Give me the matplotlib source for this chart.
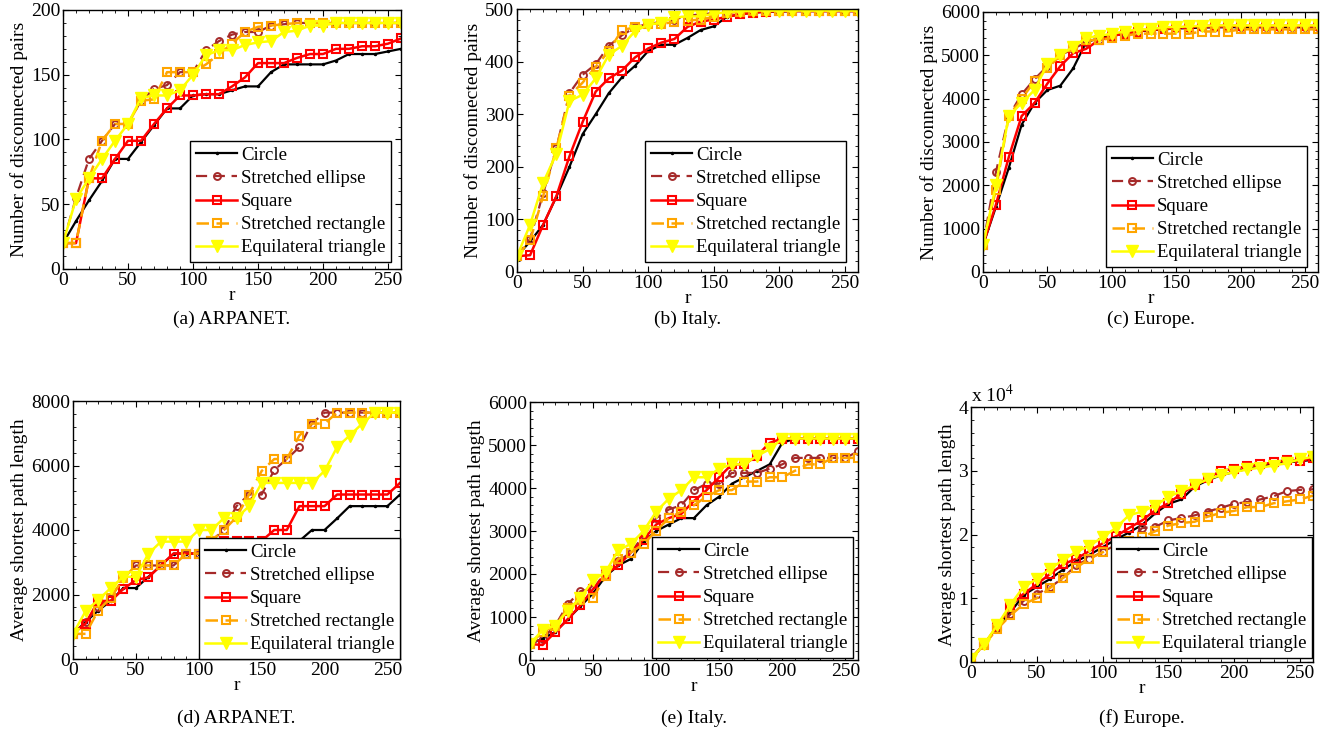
import numpy as np
import matplotlib
matplotlib.use("Agg")
import matplotlib.pyplot as plt
from matplotlib.ticker import MultipleLocator, FuncFormatter

plt.rcParams['font.family'] = ['Liberation Serif', 'DejaVu Serif']
plt.rcParams['mathtext.fontset'] = 'stix'

r = np.arange(0, 261, 10)

names = ["Circle", "Stretched ellipse", "Square", "Stretched rectangle", "Equilateral triangle"]

# (a) ARPANET, disconnected pairs
a_circle = [20, 37, 53, 68, 85, 85, 98, 111, 124, 124, 134, 135, 135, 138, 141, 141, 152, 158,
            158, 158, 158, 161, 166, 166, 166, 168, 170]
a_ellipse = [20, 55, 85, 99, 112, 112, 130, 139, 142, 152, 152, 169, 176, 181, 183, 183, 188, 189,
             190, 190, 190, 190, 190, 190, 190, 190, 190]
a_square = [20, 20, 70, 70, 85, 99, 99, 112, 124, 134, 134, 135, 135, 141, 148, 159, 159, 159,
            163, 166, 166, 170, 170, 172, 172, 174, 178]
a_rect = [20, 20, 70, 99, 112, 112, 130, 131, 152, 152, 152, 158, 166, 174, 183, 187, 188, 189,
          190, 190, 190, 190, 190, 190, 190, 190, 190]
a_tri = [20, 54, 70, 85, 99, 112, 132, 134, 134, 138, 150, 165, 169, 169, 173, 175, 176, 183,
         184, 188, 188, 190, 190, 190, 190, 190, 190]

# (b) Italy, disconnected pairs
b_circle = [30, 58, 90, 143, 200, 262, 300, 340, 370, 392, 420, 432, 432, 445, 460, 467, 485, 490,
            493, 495, 495, 496, 496, 496, 496, 496, 496]
b_ellipse = [30, 63, 150, 235, 340, 375, 395, 430, 450, 465, 472, 475, 480, 487, 490, 492, 495, 497,
             497, 497, 497, 497, 497, 497, 497, 497, 497]
b_square = [30, 32, 90, 144, 220, 285, 343, 368, 383, 408, 425, 436, 443, 466, 476, 480, 485, 490,
            493, 495, 496, 496, 496, 496, 496, 496, 496]
b_rect = [30, 60, 145, 235, 335, 360, 390, 420, 460, 465, 472, 472, 475, 478, 480, 485, 492, 495,
          496, 497, 497, 497, 497, 497, 497, 497, 497]
b_tri = [30, 90, 170, 225, 325, 337, 368, 413, 430, 458, 470, 474, 484, 486, 486, 491, 494, 496,
         497, 497, 497, 497, 497, 497, 497, 497, 497]

# (c) Europe, disconnected pairs
c_circle = [620, 1500, 2400, 3400, 3900, 4200, 4300, 4700, 5300, 5400, 5450, 5500, 5550, 5580, 5600,
            5620, 5630, 5640, 5650, 5650, 5650, 5650, 5650, 5650, 5650, 5650, 5650]
c_ellipse = [620, 2300, 3600, 4100, 4450, 4750, 5000, 5150, 5300, 5350, 5450, 5500, 5550, 5600, 5600,
             5620, 5640, 5650, 5650, 5650, 5650, 5650, 5650, 5650, 5650, 5650, 5650]
c_square = [620, 1550, 2650, 3600, 3900, 4350, 4750, 5050, 5150, 5350, 5450, 5500, 5550, 5600, 5600,
            5650, 5650, 5680, 5680, 5680, 5680, 5680, 5680, 5680, 5680, 5680, 5680]
c_rect = [620, 1900, 3600, 4000, 4400, 4700, 5000, 5200, 5350, 5350, 5400, 5450, 5500, 5500, 5500,
          5500, 5500, 5550, 5550, 5550, 5600, 5600, 5600, 5600, 5600, 5600, 5600]
c_tri = [620, 2000, 3600, 3900, 4200, 4800, 5000, 5200, 5400, 5450, 5500, 5550, 5600, 5600, 5650,
         5650, 5670, 5680, 5690, 5690, 5690, 5690, 5690, 5690, 5690, 5690, 5690]

# (d) ARPANET, average shortest path length
d_circle = [780, 1150, 1500, 1800, 2200, 2200, 2550, 2900, 3270, 3270, 3270, 3300, 3300, 3350, 3500,
            3630, 3630, 3660, 3660, 4000, 4000, 4360, 4740, 4740, 4740, 4740, 5100]
d_ellipse = [780, 1150, 1600, 1900, 2500, 2900, 2900, 2900, 2900, 3270, 3270, 3660, 4000, 4740, 5100,
             5100, 5860, 6200, 6570, 7300, 7640, 7640, 7640, 7640, 7640, 7640, 7640]
d_square = [780, 1100, 1800, 1800, 2170, 2450, 2530, 2910, 3270, 3270, 3270, 3660, 3660, 3660, 3660,
            3660, 4000, 4000, 4740, 4740, 4740, 5100, 5100, 5100, 5100, 5100, 5460]
d_rect = [780, 780, 1500, 1900, 2500, 2900, 2900, 2900, 2900, 3270, 3270, 3660, 4000, 4400, 5100,
          5830, 6200, 6200, 6930, 7300, 7300, 7640, 7640, 7640, 7640, 7640, 7640]
d_tri = [780, 1480, 1830, 2200, 2550, 2550, 3270, 3640, 3640, 3640, 4000, 4000, 4370, 4370, 4740,
         5460, 5460, 5460, 5460, 5460, 5830, 6570, 6930, 7300, 7640, 7640, 7640]

# (e) Italy, average shortest path length
e_circle = [370, 500, 650, 950, 1250, 1550, 1950, 2200, 2350, 2750, 3000, 3150, 3300, 3300, 3600,
            3800, 4100, 4250, 4400, 4550, 5050, 5150, 5150, 5150, 5150, 5150, 5150]
e_ellipse = [370, 500, 800, 1300, 1600, 1650, 2050, 2300, 2500, 2900, 3300, 3500, 3600, 3950, 4100,
             4100, 4350, 4350, 4350, 4450, 4550, 4700, 4700, 4700, 4700, 4700, 4850]
e_square = [370, 350, 650, 950, 1270, 1650, 2000, 2200, 2500, 2800, 3150, 3300, 3400, 3700, 3950,
            4250, 4550, 4550, 4750, 5050, 5150, 5150, 5150, 5150, 5150, 5150, 5150]
e_rect = [370, 650, 800, 1200, 1400, 1450, 1950, 2350, 2500, 2700, 3000, 3300, 3450, 3600, 3800,
          3950, 3950, 4150, 4150, 4250, 4250, 4400, 4550, 4550, 4700, 4700, 4700]
e_tri = [370, 700, 800, 1150, 1450, 1850, 2050, 2550, 2700, 3000, 3450, 3750, 3950, 4250, 4250,
         4450, 4550, 4550, 4750, 4900, 5150, 5150, 5150, 5150, 5150, 5150, 5150]

# (f) Europe, average shortest path length (x 10^4)
f_circle = [0.05, 0.28, 0.55, 0.78, 1.05, 1.18, 1.30, 1.45, 1.58, 1.68, 1.80, 1.92, 2.03, 2.15, 2.33,
            2.48, 2.55, 2.75, 2.85, 2.93, 2.98, 3.03, 3.07, 3.10, 3.13, 3.15, 3.17]
f_ellipse = [0.05, 0.28, 0.53, 0.75, 0.96, 1.07, 1.17, 1.32, 1.52, 1.62, 1.73, 1.83, 1.90, 2.10, 2.12,
             2.22, 2.26, 2.30, 2.36, 2.42, 2.48, 2.51, 2.55, 2.60, 2.68, 2.70, 2.71]
f_square = [0.05, 0.28, 0.56, 0.88, 1.07, 1.22, 1.38, 1.53, 1.62, 1.74, 1.86, 1.97, 2.10, 2.22, 2.38,
            2.49, 2.64, 2.77, 2.88, 3.00, 3.03, 3.07, 3.10, 3.13, 3.17, 3.15, 3.20]
f_rect = [0.05, 0.27, 0.52, 0.73, 0.91, 1.00, 1.16, 1.32, 1.48, 1.62, 1.72, 1.80, 1.90, 1.96, 2.05,
          2.14, 2.18, 2.20, 2.28, 2.34, 2.37, 2.43, 2.43, 2.49, 2.52, 2.55, 2.61]
f_tri = [0.05, 0.28, 0.58, 0.90, 1.18, 1.30, 1.46, 1.60, 1.73, 1.82, 1.96, 2.10, 2.30, 2.36, 2.45,
         2.59, 2.68, 2.77, 2.87, 2.93, 2.98, 3.02, 3.05, 3.08, 3.12, 3.18, 3.22]

captions = ["(a) ARPANET.", "(b) Italy.", "(c) Europe.", "(d) ARPANET.", "(e) Italy.", "(f) Europe."]
ylabels = ["Number of disconnected pairs"] * 3 + ["Average shortest path length"] * 3
ymax = [200, 500, 6000, 8000, 6000, 40000]
ystep = [50, 100, 1000, 2000, 1000, 10000]
series = [
    (a_circle, a_ellipse, a_square, a_rect, a_tri),
    (b_circle, b_ellipse, b_square, b_rect, b_tri),
    (c_circle, c_ellipse, c_square, c_rect, c_tri),
    (d_circle, d_ellipse, d_square, d_rect, d_tri),
    (e_circle, e_ellipse, e_square, e_rect, e_tri),
    (f_circle, f_ellipse, f_square, f_rect, f_tri),
]
scale = [1, 1, 1, 1, 1, 1e4]

# axes boxes in pixels: left, top, right, bottom
W, H = 1334, 745
boxes = [(63, 10, 401, 269), (517, 9, 858, 272), (983, 12, 1318, 272),
         (73, 401, 400, 659), (530, 402, 858, 660), (971, 407, 1313, 662)]
# legend offsets from axes lower right corner (px)
leg_off = [(10, 7), (12, 10), (11, 5), (0, 0), (5, 2), (1, 4)]
cap_y = [319, 319, 319, 718, 718, 718]

styles = [
    dict(color="k", ls="-", marker=".", ms=3, lw=1.6),
    dict(color="#a52a2a", ls="--", marker="o", ms=5, mfc="none", mew=1.4, lw=1.6, dashes=(5, 3)),
    dict(color="#ff0000", ls="-", marker="s", ms=5.5, mfc="none", mew=1.5, lw=1.8),
    dict(color="#ffa500", ls="--", marker="s", ms=5.5, mfc="none", mew=1.5, lw=1.8, dashes=(5, 3)),
    dict(color="#ffff00", ls="-", marker="v", ms=8, lw=1.8),
]

fig = plt.figure(figsize=(W / 100, H / 100), dpi=100)
fs = 14
fs_leg = 13.5

for i in range(6):
    l, t, rr, b = boxes[i]
    ax = fig.add_axes([l / W, 1 - b / H, (rr - l) / W, (b - t) / H])
    for s, lab, st in zip(series[i], names, styles):
        ax.plot(r, np.array(s) * scale[i], label=lab, **st)
    ax.set_xlim(0, 260)
    ax.set_ylim(0, ymax[i])
    ax.xaxis.set_major_locator(MultipleLocator(50))
    ax.xaxis.set_minor_locator(MultipleLocator(10))
    ax.yaxis.set_major_locator(MultipleLocator(ystep[i]))
    ax.yaxis.set_minor_locator(MultipleLocator(ystep[i] / 5))
    ax.tick_params(which="both", direction="in", top=True, right=True, labelsize=fs, pad=2)
    ax.tick_params(which="major", length=4, width=0.8)
    ax.tick_params(which="minor", length=2, width=0.6)
    for sp in ax.spines.values():
        sp.set_linewidth(1.0)
    if scale[i] != 1:
        ax.yaxis.set_major_formatter(FuncFormatter(lambda v, p: f"{v / 1e4:g}"))
        ax.text(0.0, 1.005, r"x 10$^{4}$", transform=ax.transAxes, fontsize=fs,
                ha="left", va="bottom")
    ax.set_xlabel("r", fontsize=fs, labelpad=-1)
    ax.set_ylabel(ylabels[i], fontsize=fs, labelpad=2)
    dx, dy = leg_off[i]
    leg = ax.legend(loc="lower right", bbox_to_anchor=(1 - dx / (rr - l), dy / (b - t)),
                    borderaxespad=0, fontsize=fs_leg, fancybox=False, framealpha=1,
                    edgecolor="k", handlelength=2.2, handletextpad=0.2,
                    labelspacing=0.32, borderpad=0.3)
    leg.get_frame().set_linewidth(1.0)
    fig.text((l + rr) / 2 / W, 1 - cap_y[i] / H, captions[i], fontsize=fs,
             ha="center", va="center")

fig.savefig("out.png", dpi=100)
